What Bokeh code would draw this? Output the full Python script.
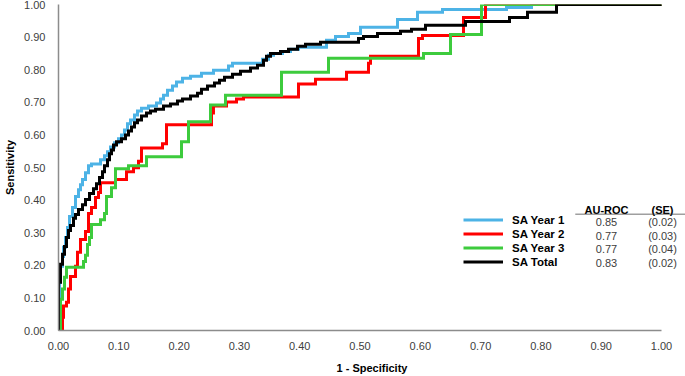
from bokeh.plotting import figure
from bokeh.models import (Range1d, FixedTicker, NumeralTickFormatter, Legend,
                          LegendItem, Label, BoxAnnotation)
from bokeh.embed import file_html
from bokeh.resources import INLINE

# ---------------- data ----------------
ticks = [0.0, 0.1, 0.2, 0.3, 0.4, 0.5, 0.6, 0.7, 0.8, 0.9, 1.0]

series_names = ["SA Year 1", "SA Year 2", "SA Year 3", "SA Total"]
auc_values = ["0.85", "0.77", "0.77", "0.83"]
se_values = ["(0.02)", "(0.03)", "(0.04)", "(0.02)"]
series_colors = ["#4DB3E6", "#FF0000", "#3DCB3D", "#000000"]

y1_fpr = [0, 0, 0.0017, 0.0033, 0.0066, 0.0083, 0.0116, 0.0149, 0.0182, 0.0232,
          0.0282, 0.0332, 0.0365, 0.0398, 0.0448, 0.0498, 0.0547, 0.0697, 0.0763,
          0.0813, 0.0862, 0.0929, 0.0995, 0.1045, 0.1095, 0.1144, 0.1194, 0.126,
          0.131, 0.1376, 0.1493, 0.1625, 0.1692, 0.1741, 0.1808, 0.1891, 0.1957,
          0.2056, 0.2189, 0.2371, 0.257, 0.2819, 0.2886, 0.3383, 0.3483, 0.3566,
          0.3715, 0.3847, 0.398, 0.4444, 0.4594, 0.4809, 0.5008, 0.5622, 0.5954,
          0.6368, 0.743, 0.7844, 1.0]
y1_tpr = [0, 0.096, 0.148, 0.197, 0.227, 0.255, 0.285, 0.316, 0.35, 0.377,
          0.411, 0.432, 0.447, 0.463, 0.484, 0.505, 0.511, 0.524, 0.536,
          0.548, 0.563, 0.576, 0.588, 0.6, 0.615, 0.634, 0.646, 0.661,
          0.673, 0.682, 0.689, 0.698, 0.71, 0.722, 0.737, 0.75, 0.762,
          0.774, 0.78, 0.789, 0.798, 0.811, 0.82, 0.832, 0.844, 0.85,
          0.856, 0.863, 0.869, 0.89, 0.902, 0.911, 0.93, 0.954, 0.976,
          0.985, 0.991, 1.0, 1.0]

y2_fpr = [0, 0.0066, 0.0083, 0.0133, 0.0166, 0.0199, 0.0282, 0.0315, 0.0365,
          0.0448, 0.0498, 0.0547, 0.0614, 0.0663, 0.0697, 0.0945, 0.1128, 0.1244,
          0.1327, 0.1376, 0.1725, 0.1791, 0.2537, 0.257, 0.2786, 0.2952, 0.3068,
          0.398, 0.4262, 0.4776, 0.5141, 0.5174, 0.597, 0.6036, 0.6716, 0.7081, 1.0]
y2_tpr = [0, 0.041, 0.075, 0.087, 0.127, 0.166, 0.197, 0.24, 0.279,
          0.304, 0.359, 0.377, 0.408, 0.423, 0.453, 0.463, 0.487, 0.499,
          0.519, 0.56, 0.573, 0.631, 0.667, 0.689, 0.701, 0.71, 0.716,
          0.756, 0.771, 0.792, 0.82, 0.841, 0.896, 0.905, 0.96, 1.0, 1.0]

y3_fpr = [0, 0.0033, 0.0066, 0.01, 0.0133, 0.0415, 0.0448, 0.0481, 0.0514, 0.0547,
          0.0697, 0.0763, 0.0796, 0.0879, 0.0945, 0.1161, 0.1459, 0.204, 0.2156,
          0.2521, 0.2769, 0.3698, 0.4478, 0.6053, 0.6501, 0.7015, 1.0]
y3_tpr = [0, 0.096, 0.127, 0.163, 0.194, 0.212, 0.231, 0.264, 0.285, 0.325,
          0.34, 0.359, 0.411, 0.438, 0.496, 0.505, 0.533, 0.579, 0.64,
          0.692, 0.722, 0.792, 0.835, 0.85, 0.908, 1.0, 1.0]

tot_fpr = [0, 0, 0.0033, 0.0066, 0.01, 0.0133, 0.0166, 0.0199, 0.0249, 0.0282,
           0.0332, 0.0398, 0.0448, 0.0514, 0.058, 0.063, 0.068, 0.073, 0.0763,
           0.0813, 0.0846, 0.0879, 0.0912, 0.0962, 0.1045, 0.1111, 0.1161, 0.1211,
           0.126, 0.131, 0.1376, 0.1459, 0.1526, 0.1609, 0.1741, 0.1857, 0.1973,
           0.2056, 0.2189, 0.2305, 0.2371, 0.2471, 0.2587, 0.267, 0.2753, 0.2886,
           0.3018, 0.3184, 0.33, 0.34, 0.3449, 0.3516, 0.3682, 0.3814, 0.3964,
           0.4096, 0.4345, 0.4975, 0.5058, 0.529, 0.5672, 0.5854, 0.6086, 0.675,
           0.7479, 0.7778, 0.8259, 1.0]
tot_tpr = [0, 0.148, 0.203, 0.234, 0.258, 0.285, 0.307, 0.322, 0.344, 0.356,
           0.371, 0.386, 0.402, 0.42, 0.435, 0.45, 0.469, 0.487, 0.505,
           0.524, 0.542, 0.554, 0.569, 0.579, 0.588, 0.6, 0.612, 0.624,
           0.637, 0.646, 0.658, 0.667, 0.673, 0.679, 0.689, 0.695, 0.704,
           0.71, 0.719, 0.728, 0.74, 0.75, 0.759, 0.768, 0.777, 0.786,
           0.795, 0.805, 0.814, 0.829, 0.841, 0.85, 0.856, 0.863, 0.872,
           0.878, 0.884, 0.896, 0.902, 0.911, 0.918, 0.924, 0.936, 0.948,
           0.96, 0.976, 1.0, 1.0]

curves = [(y1_fpr, y1_tpr), (y2_fpr, y2_tpr), (y3_fpr, y3_tpr), (tot_fpr, tot_tpr)]

# ---------------- figure ----------------
FONT = "Liberation Sans"

p = figure(width=685, height=376, output_backend="svg", toolbar_location=None,
           x_range=Range1d(0, 1.0398), y_range=Range1d(0, 1),
           min_border_left=58, min_border_right=0, min_border_top=4,
           min_border_bottom=45)
p.outline_line_color = None
p.xgrid.visible = False
p.ygrid.visible = False
p.background_fill_color = "white"

for ax in (p.xaxis[0], p.yaxis[0]):
    ax.ticker = FixedTicker(ticks=ticks)
    ax.formatter = NumeralTickFormatter(format="0.00")
    ax.bounds = (0, 1)
    ax.major_tick_line_color = None
    ax.minor_tick_line_color = None
    ax.axis_line_color = "#8C8C8C"
    ax.axis_line_width = 1.5
    ax.major_label_text_font = FONT
    ax.major_label_text_font_size = "11px"
    ax.major_label_text_color = "#404040"
    ax.axis_label_text_font = FONT
    ax.axis_label_text_font_size = "11px"
    ax.axis_label_text_font_style = "bold"
    ax.axis_label_text_color = "#000000"

p.xaxis[0].axis_label = "1 - Specificity"
p.yaxis[0].axis_label = "Sensitivity"
p.xaxis[0].major_label_standoff = 5
p.yaxis[0].major_label_standoff = 7
p.xaxis[0].axis_label_standoff = 9
p.yaxis[0].axis_label_standoff = 5

renderers = []
for (fx, ty), col in zip(curves, series_colors):
    r = p.step(fx, ty, mode="after", line_color=col, line_width=3,
               line_join="miter")
    renderers.append(r)

legend = Legend(items=[LegendItem(label=n, renderers=[r])
                       for n, r in zip(series_names, renderers)],
                location=(405, 62), orientation="vertical",
                padding=0, margin=0, spacing=1,
                glyph_width=40, glyph_height=13, label_height=13,
                label_standoff=9, border_line_color=None,
                background_fill_alpha=0,
                label_text_font=FONT, label_text_font_size="11.5px",
                label_text_font_style="bold", label_text_color="#000000")
p.add_layout(legend, "center")

# AU-ROC table
col_auc_x = 0.9088
col_se_x = 1.0017
header_y = 0.370
row_y = [0.332, 0.2905, 0.249, 0.208]

for txt, xx in (("AU-ROC", col_auc_x), ("(SE)", col_se_x)):
    p.add_layout(Label(x=xx, y=header_y, text=txt, text_align="center",
                       text_baseline="middle", text_font=FONT,
                       text_font_size="11px", text_font_style="bold",
                       text_color="#000000"))
for a, s, yy in zip(auc_values, se_values, row_y):
    p.add_layout(Label(x=col_auc_x, y=yy, text=a, text_align="center",
                       text_baseline="middle", text_font=FONT,
                       text_font_size="11px", text_color="#404040"))
    p.add_layout(Label(x=col_se_x, y=yy, text=s, text_align="center",
                       text_baseline="middle", text_font=FONT,
                       text_font_size="11px", text_color="#404040"))

p.add_layout(BoxAnnotation(left=0.857, right=1.0398, bottom=0.3555, top=0.3585,
                           fill_color="#404040", fill_alpha=1,
                           line_color=None))

open("out.html", "w").write(file_html(p, INLINE))
